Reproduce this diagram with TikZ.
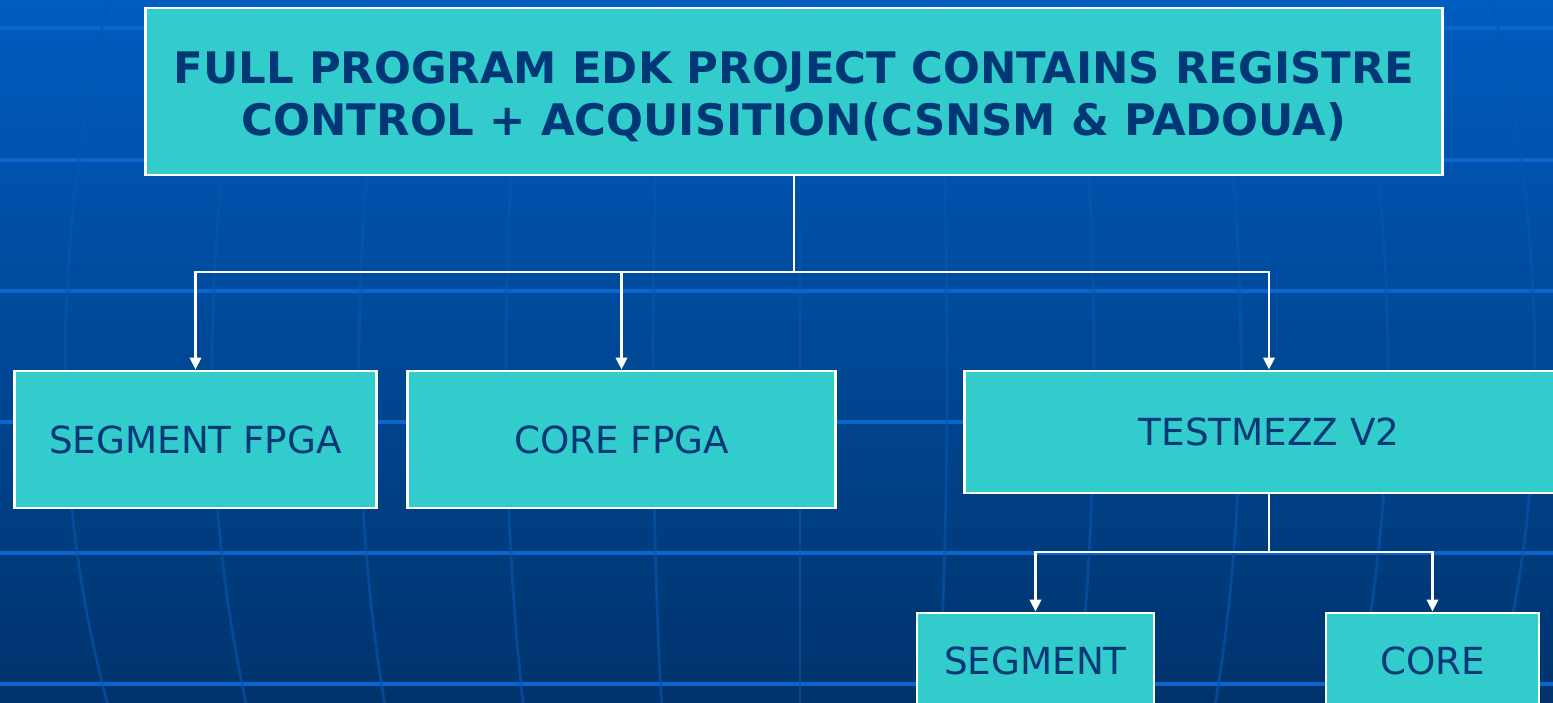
\documentclass[tikz,border=0pt]{standalone}
\usepackage{fontspec}
\setmainfont{DejaVu Sans}
\usetikzlibrary{arrows.meta}

\definecolor{bgtop}{HTML}{005CC0}
\definecolor{bgbot}{HTML}{00336C}
\definecolor{gridblue}{HTML}{0A66CC}
\definecolor{boxfill}{HTML}{33CCCC}
\definecolor{boxtext}{HTML}{003877}

\begin{document}
\begin{tikzpicture}[x=0.01cm, y=-0.01cm]
	\tikzstyle{block} = [draw=white, line width=0.8pt, fill=boxfill, text=boxtext, inner sep=0, align=center]
	\tikzstyle{link} = [draw=white, line width=0.8pt]
	\tikzstyle{arrow} = [link, -{Triangle[length=3.4pt, width=3.2pt]}]

	% background
	\useasboundingbox (0,0) rectangle (1553,702);
	\clip (0,0) rectangle (1553,702);
	\shade[top color=bgtop, bottom color=bgbot] (0,0) rectangle (1553,702);
	\foreach \y in {28,160,291,422,553,684} {
		\draw[gridblue, line width=0.9pt] (0,\y) -- (1553,\y);
	}
	\foreach \k in {-5,...,5} {
		\draw[gridblue!70!bgbot, line width=0.8pt, opacity=0.6]
			(800+138*\k,-10) .. controls (800+150*\k,250) and (800+150*\k,500) .. (800+138*\k,712);
	}

	% boxes
	\node[block, minimum width=12.96cm, minimum height=1.67cm, font=\fontsize{12.35}{14.8}\selectfont\bfseries] (full) at (794,91.5)
		{\rule{0pt}{11.8pt}FULL PROGRAM EDK PROJECT CONTAINS REGISTRE\\CONTROL + ACQUISITION(CSNSM \& PADOUA)};
	\node[block, minimum width=3.61cm, minimum height=1.37cm, font=\fontsize{10.6}{12}\selectfont] (segfpga) at (195.5,439.5) {SEGMENT FPGA};
	\node[block, minimum width=4.27cm, minimum height=1.37cm, font=\fontsize{10.6}{12}\selectfont] (corefpga) at (621.5,439.5) {CORE FPGA};
	\node[block, minimum width=6.08cm, minimum height=1.22cm, font=\fontsize{10.6}{12}\selectfont] (testmezz) at (1269,432) {TESTMEZZ V2};
	\node[block, minimum width=2.37cm, minimum height=0.96cm, font=\fontsize{10.6}{12}\selectfont] (seg) at (1035.5,661) {SEGMENT};
	\node[block, minimum width=2.13cm, minimum height=0.96cm, font=\fontsize{10.6}{12}\selectfont] (core) at (1432.5,661) {CORE};

	% connectors
	\coordinate (j1) at (794,272);
	\coordinate (j2) at (1269,552);
	\draw[link] (full) -- (j1);
	\draw[arrow] (j1) -| (segfpga);
	\draw[arrow] (j1) -| (corefpga);
	\draw[arrow] (j1) -| (testmezz);
	\draw[link] (testmezz) -- (j2);
	\draw[arrow] (j2) -| (seg);
	\draw[arrow] (j2) -| (core);

\end{tikzpicture}
\end{document}
